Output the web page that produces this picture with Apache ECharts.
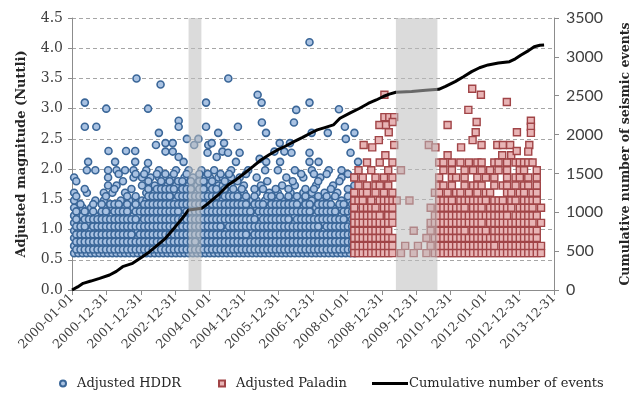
<!DOCTYPE html>
<html><head><meta charset="utf-8">
<script src="https://cdn.jsdelivr.net/npm/echarts@6/dist/echarts.min.js"></script>
<style>html,body{margin:0;padding:0;background:#fff}#c{width:640px;height:407px}</style>
</head><body><div id="c"></div>
<script>
// ---- data ----
const xTickLabels = ['2000-01-01','2000-12-31','2001-12-31','2002-12-31','2004-01-01','2004-12-31','2005-12-31','2006-12-31','2008-01-01','2008-12-31','2009-12-31','2010-12-31','2012-01-01','2012-12-31','2013-12-31'];
const magLevels = [0.61,0.73,0.86,0.98,1.11,1.23,1.36,1.48,1.61,1.73,1.86,1.98,2.11];
const midLevels = [0.67,0.80,0.92,1.05,1.17,1.30,1.42,1.55,1.67,1.80,1.92];
const binDays = 45;               // one time bin = 45 days since 2000-01-01
const hddrStartBin = 0;
// occupancy masks: one string per magnitude level, one char per 45-day bin ('#' = events present)
const hddrRows = [
  "##########"+"##########"+"##########"+"##########"+"##########"+"##########"+"#######",
  "##########"+"##########"+"##########"+"##########"+"##########"+"##########"+"#######",
  "##########"+"#########."+"##########"+"##########"+"######.###"+"##########"+"#######",
  "#########."+"##########"+"####.#####"+"##########"+"##########"+"###.######"+"#######",
  "####.#####"+"##.#######"+"##########"+"###.######"+"#######.##"+"##########"+"##.####",
  "###.##.#.#"+"#.####.###"+"##########"+"#.####.###"+"######.###"+"###.######"+"#.##.##",
  "#.#.#..#.#"+"..#.##.###"+"###.######"+"##.###.###"+"#.#####.##"+"#.####.###"+".#.#.##",
  "#....#.#.."+".#.#..####"+"#####.####"+"###.######"+"#.##.#.###"+".###.##.#."+"#..#.#.",
  "#..#...#.#"+"..#....###"+"#.####.###"+"#.#.#####."+"#..#..#.#."+".#..#.#..#"+"..#..#.",
  "........#."+"#.....#.##"+".####.##.#"+"#.#.##.#.."+"#...#....#"+"..#....#.."+".#....#",
  "#.......#."+"....#.#.#."+"##.#..#.#."+".##.##.#.#"+"...#......"+"#...#...#."+"...#..#",
  "...#.#..#."+"#.#.#..#.."+"#...#..#.."+"#..#...#.."+".#...#..#."+"..#...#..."+"#..#..."
];
const hddrMidRows = [
  "##########"+"##########"+"##########"+"##########"+"##########"+"##########"+"######.",
  "##########"+"##########"+"#########."+"##########"+"##########"+"##########"+"######.",
  "##########"+"####.#####"+"##########"+"##########"+"#.########"+"##########"+"######.",
  "###.######"+"##########"+"##########"+"#####.####"+"##########"+"########.#"+"######.",
  "#.########"+"#####.####"+"##########"+"##########"+"###.######"+"#.########"+"####.#.",
  "#.#.#.##.#"+"###.######"+"#####.####"+"##########"+"##.#######"+"######.###"+"##.###.",
  ".#..#.#.##"+"#.#.#.####"+"##########"+"#.########"+"#.###.####"+"###.##.###"+"#.##.#.",
  "#......#.."+"..#.#..###"+"###.######"+"####.####."+"#.#..##.#."+"#.#.#..#.#"+".#..#..",
  "..#......#"+"...#...#.#"+"####.###.#"+"#.##.#.#.#"+"..#.#..#.."+"#...#.#..."+"#...#..",
  "#........."+".#.....#.."+"#.#.##.#.#"+"#.#..#..#."+".....#...."+".#.....#.."+"..#....",
  ".........."+"#...#.#..#"+".#.#..#..#"+".#..#.#..."+"#........."+"...#..#..#"+"....#.."
];
const hddrExtra = [
  [136,3.1],[136,2.7],[258,2.7],[171,2.12],[363,3.0],[387,2.3],[457,2.12],[573,2.3],[670,2.12],[670,2.3],
  [684,3.5],[806,3.0],[806,2.1],[890,2.4],[921,2.6],[939,3.4],[991,2.43],[991,2.29],[1068,2.43],[1068,2.29],
  [1131,2.8],[1131,2.7],[1131,2.2],[1183,2.12],[1218,2.5],[1295,2.4],[1340,2.5],[1421,3.1],[1421,2.7],[1437,2.27],
  [1445,2.4],[1481,2.43],[1534,2.2],[1550,2.6],[1595,2.29],[1612,2.43],[1654,2.27],[1657,3.5],[1738,2.12],[1759,2.7],
  [1777,2.27],[1968,3.23],[1989,2.17],[2010,3.1],[2013,2.77],[2057,2.6],[2059,2.12],[2146,2.29],[2202,2.43],[2206,2.12],
  [2251,2.29],[2311,2.43],[2327,2.27],[2353,2.77],[2377,2.98],[2518,4.1],[2518,3.1],[2518,2.27],[2518,2.12],[2541,2.6],
  [2614,2.12],[2712,2.6],[2830,2.99],[2893,2.7],[2903,2.5],[2953,2.27],[2994,2.6],[3033,2.12]
];
const paladinStartBin = 66;
const paladinRows = [
  "##########"+".#..#..#.#"+"##########"+"##########"+"#####",
  "##########"+"..#..#..#."+"##########"+"####.#####"+"#####",
  "##########"+".......#.#"+"##########"+"##########"+"####.",
  "#########."+"....#...#."+"#######.##"+"##.#######"+"####.",
  "##########"+"........##"+"##########"+"#.########"+"###.#",
  "#######.##"+".........#"+"##########"+"#######.##"+"####.",
  "#.####.###"+"........#."+"#######.##"+"#.######.#"+"###.#",
  "###.#.####"+"#..#......"+"####.#####"+"##.###.##."+"####.",
  "#.##.#.#.#"+".........#"+"#.#.##.#.#"+".##...##.#"+"#.##.",
  ".#.#.##.#."+".........."+"##.#..#.##"+"#..#.##.#."+"##.#.",
  "#.#..#.#.#"+".........."+"#..##.#..#"+".#.#..#.##"+".#.#.",
  ".#..#...#."+".#........"+".#.#..#.#."+"#.#.#.#..#"+"#..#.",
  "...#..#..#"+".........."+"##.#.#.#.#"+"#..##.#.##"+"###.."
];
const paladinExtra = [
  [3312,3.23],[3312,2.86],[3364,2.86],[3416,2.86],[3259,2.73],[3329,2.73],[3400,2.78],[3358,2.61],[3092,2.4],[3183,2.36],
  [3253,2.48],[3416,2.4],[3322,2.23],[3783,2.4],[3853,2.36],[3982,2.73],[3982,2.23],[4243,3.33],[4335,3.23],[4202,2.98],
  [4610,3.11],[4290,2.78],[4280,2.61],[4247,2.48],[4865,2.8],[4865,2.7],[4865,2.6],[4717,2.61],[4125,2.36],[4342,2.4],
  [4509,2.4],[4568,2.4],[4645,2.4],[4848,2.4],[4837,2.29],[4561,2.23],[4656,2.23],[4715,2.3]
];
const cumDays   = [0,60,118,200,293,398,470,537,642,747,820,887,991,1096,1183,1236,1300,1375,1445,1550,1654,1740,1829,1920,2003,2090,2178,2260,2353,2440,2527,2600,2680,2771,2841,2950,3050,3140,3225,3300,3364,3434,3600,3750,3888,3960,4062,4150,4237,4320,4411,4520,4638,4700,4761,4840,4900,4960,5005];
const cumCounts = [0,40,86,115,150,193,240,300,343,429,490,557,665,815,943,1030,1040,1051,1116,1223,1351,1420,1502,1590,1673,1740,1802,1850,1909,1960,2017,2060,2090,2124,2210,2280,2339,2400,2445,2490,2520,2545,2555,2570,2583,2620,2681,2745,2810,2860,2896,2920,2938,2975,3024,3080,3131,3150,3153];
const shadedPeriods = [[1236,1372],[3434,3874]];

// ---- build ----
function fromRows(rows, levels, start, shift) {
  const out = [];
  rows.forEach((s, r) => {
    for (let i = 0; i < s.length; i++) if (s[i] === '#') out.push([(start + i) * binDays + shift, levels[r]]);
  });
  return out;
}
const hddrData = fromRows(hddrRows, magLevels, hddrStartBin, binDays / 2)
  .concat(fromRows(hddrMidRows, midLevels, hddrStartBin, binDays))
  .concat(hddrExtra);
const paladinData = fromRows(paladinRows, magLevels, paladinStartBin, binDays / 2).concat(paladinExtra);
const cumData = cumDays.map((d, i) => [d, cumCounts[i]]);

const serif = 'DejaVu Serif';
const chart = echarts.init(document.getElementById('c'), null, {renderer: 'canvas'});
chart.setOption({
  animation: false,
  backgroundColor: '#fff',
  grid: {left: 72, right: 80, top: 18, bottom: 117},
  xAxis: {
    type: 'value', min: 0, max: 5110, interval: 365,
    axisLine: {show: true, lineStyle: {color: '#8c8c8c'}},
    axisTick: {show: true, length: 5, lineStyle: {color: '#8c8c8c'}},
    splitLine: {show: false},
    axisLabel: {rotate: 45, margin: 6, fontFamily: serif, fontSize: 12.5, color: '#404040',
      formatter: v => xTickLabels[Math.round(v / 365)] || ''}
  },
  yAxis: [{
    type: 'value', min: 0, max: 4.5, interval: 0.5, position: 'left',
    name: 'Adjusted magnitude (Nuttli)', nameLocation: 'middle', nameGap: 44, nameRotate: 90,
    nameTextStyle: {fontFamily: serif, fontWeight: 'bold', fontSize: 13, color: '#262626'},
    axisLine: {show: true, lineStyle: {color: '#8c8c8c'}},
    axisTick: {show: true, length: 4, lineStyle: {color: '#8c8c8c'}},
    splitLine: {show: true, lineStyle: {color: '#a6a6a6', type: [4, 3], width: 1}},
    axisLabel: {fontFamily: serif, fontSize: 14, color: '#404040', margin: 9, formatter: v => v.toFixed(1)}
  }, {
    type: 'value', min: 0, max: 3500, interval: 500, position: 'right',
    name: 'Cumulative number of seismic events', nameLocation: 'middle', nameGap: 65, nameRotate: 90,
    nameTextStyle: {fontFamily: serif, fontWeight: 'bold', fontSize: 12.5, color: '#262626'},
    axisLine: {show: true, lineStyle: {color: '#8c8c8c'}},
    axisTick: {show: true, length: 5, lineStyle: {color: '#8c8c8c'}},
    splitLine: {show: false},
    axisLabel: {fontFamily: 'Lato', fontSize: 16, color: '#404040', margin: 12, formatter: v => String(v)}
  }],
  legend: [
    {data: [{name: 'Adjusted HDDR', icon: 'circle'}], left: 59, top: 377, padding: 0, itemWidth: 6, itemHeight: 6,
     textStyle: {fontFamily: serif, fontSize: 13, color: '#262626', padding: [0, 0, 0, 6]}},
    {data: [{name: 'Adjusted Paladin', icon: 'rect'}], left: 218, top: 377, padding: 0, itemWidth: 6, itemHeight: 6,
     textStyle: {fontFamily: serif, fontSize: 13, color: '#262626', padding: [0, 0, 0, 6]}},
    {data: [{name: 'Cumulative number of events', icon: 'rect'}], left: 372, top: 377, padding: 0, itemWidth: 36, itemHeight: 3,
     itemGap: 0, textStyle: {fontFamily: serif, fontSize: 13, color: '#262626', padding: [0, 0, 0, -4]}}
  ],
  series: [
    {name: 'Adjusted HDDR', type: 'scatter', data: hddrData, symbol: 'circle', symbolSize: 7, z: 2,
     itemStyle: {color: '#a9c2e2', borderColor: '#3a6698', borderWidth: 1.6, opacity: 1}},
    {name: 'Adjusted Paladin', type: 'scatter', data: paladinData, symbol: 'rect', symbolSize: 7, z: 3,
     itemStyle: {color: '#e8b4b5', borderColor: '#a14447', borderWidth: 1.4, opacity: 1}},
    {name: 'Cumulative number of events', type: 'line', yAxisIndex: 1, data: cumData, showSymbol: false, z: 5,
     lineStyle: {color: '#000', width: 3}, itemStyle: {color: '#000'}},
    {type: 'custom', z: 10, silent: true, data: shadedPeriods, encode: {x: [0, 1]},
     renderItem: (params, api) => {
       const a = api.coord([api.value(0), 4.5]);
       const b = api.coord([api.value(1), 0]);
       return {type: 'rect', shape: {x: a[0], y: a[1], width: b[0] - a[0], height: b[1] - a[1]},
               style: {fill: 'rgba(189,189,189,0.55)'}};
     }}
  ]
});
</script></body></html>
